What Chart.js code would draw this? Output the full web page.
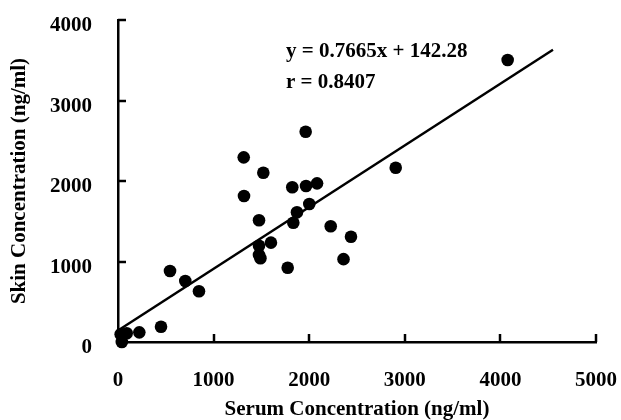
<!DOCTYPE html>
<html>
<head>
<meta charset="utf-8">
<script src="https://cdn.jsdelivr.net/npm/chart.js@4/dist/chart.umd.min.js"></script>
<style>
  html, body { margin: 0; padding: 0; background: #fff; }
  #wrap { width: 621px; height: 420px; }
</style>
</head>
<body>
<div id="wrap"><canvas id="c" width="621" height="420"></canvas></div>
<script>
// ---- Data ----
const serumValues = [40, 28, 91, 223, 450, 544, 704, 847, 1318, 1315, 1520, 1475, 1475, 1600, 1475, 1490, 1775, 1823, 1967, 2082, 1963, 2001, 1872, 1834, 2225, 2437, 2359, 2905, 4076];
const skinValues  = [0, 96, 108, 120, 190, 882, 758, 630, 1814, 2294, 2103, 1512, 1196, 1234, 1080, 1040, 923, 1922, 1938, 1971, 2612, 1714, 1611, 1482, 1437, 1308, 1029, 2165, 3503];
const regSlope = 0.7665;
const regIntercept = 142.28;
const regLineX = [0, 4550];
const xTicks = [0, 1000, 2000, 3000, 4000, 5000];
const yTicks = [0, 1000, 2000, 3000, 4000];
const equationLines = ['y = 0.7665x + 142.28', 'r = 0.8407'];
const equationPos = { x: 1757, y: [3540, 3155] };
const xTitle = 'Serum Concentration (ng/ml)';
const yTitle = 'Skin Concentration (ng/ml)';

const FONT = '"Liberation Serif", "Times New Roman", serif';

const scatterData = serumValues.map((v, i) => ({ x: v, y: skinValues[i] }));
const lineData = regLineX.map(x => ({ x: x, y: regSlope * x + regIntercept }));

function zeroPad(s) { s.paddingTop = 0; s.paddingBottom = 0; s.paddingLeft = 0; s.paddingRight = 0; }

const insideTicks = {
  id: 'insideTicks',
  afterDraw(chart) {
    const ctx = chart.ctx;
    const xs = chart.scales.x, ys = chart.scales.y;
    ctx.save();
    ctx.strokeStyle = '#000';
    ctx.lineWidth = 2.5;
    const xb = ys.getPixelForValue(0);
    xTicks.forEach(v => {
      const px = Math.round(xs.getPixelForValue(v));
      ctx.beginPath(); ctx.moveTo(px, xb); ctx.lineTo(px, xb - 8); ctx.stroke();
    });
    const yl = xs.getPixelForValue(0);
    yTicks.forEach(v => {
      const py = Math.round(ys.getPixelForValue(v));
      ctx.beginPath(); ctx.moveTo(yl, py); ctx.lineTo(yl + 8, py); ctx.stroke();
    });
    // equation text
    ctx.fillStyle = '#000';
    ctx.font = 'bold 21px ' + FONT;
    ctx.textAlign = 'left';
    ctx.textBaseline = 'alphabetic';
    equationLines.forEach((t, i) => {
      ctx.fillText(t, xs.getPixelForValue(equationPos.x), ys.getPixelForValue(equationPos.y[i]));
    });
    ctx.restore();
  }
};

new Chart(document.getElementById('c'), {
  type: 'scatter',
  data: {
    datasets: [
      {
        type: 'line',
        data: lineData,
        borderColor: '#000',
        borderWidth: 2.5,
        pointRadius: 0,
        fill: false,
        order: 2
      },
      {
        data: scatterData,
        backgroundColor: '#000',
        borderColor: '#000',
        borderWidth: 0,
        pointRadius: 6.3,
        order: 1
      }
    ]
  },
  options: {
    responsive: false,
    animation: false,
    clip: false,
    layout: { padding: { top: 20, right: 25, bottom: 0, left: 0 } },
    plugins: { legend: { display: false }, tooltip: { enabled: false } },
    scales: {
      x: {
        type: 'linear',
        min: 0, max: 5000,
        afterBuildTicks: s => { s.ticks = xTicks.map(v => ({ value: v })); },
        afterFit: s => { s.height = 78; zeroPad(s); },
        ticks: {
          color: '#000',
          font: { family: FONT, size: 21, weight: 'bold' },
          padding: 26,
          maxRotation: 0,
          callback: v => String(v)
        },
        grid: { display: true, drawOnChartArea: false, drawTicks: false },
        border: { display: true, color: '#000', width: 2.5 },
        title: {
          display: true, text: xTitle, color: '#000',
          font: { family: FONT, size: 21, weight: 'bold', lineHeight: 1 },
          padding: { top: 0, bottom: 0 }
        }
      },
      y: {
        type: 'linear',
        min: 0, max: 4000,
        afterBuildTicks: s => { s.ticks = yTicks.map(v => ({ value: v })); },
        afterFit: s => { s.width = 118; zeroPad(s); },
        ticks: {
          color: '#000',
          font: { family: FONT, size: 21, weight: 'bold' },
          padding: 26,
          labelOffset: 6,
          callback: v => String(v)
        },
        grid: { display: true, drawOnChartArea: false, drawTicks: false },
        border: { display: true, color: '#000', width: 2.5 },
        title: {
          display: true, text: yTitle, color: '#000',
          font: { family: FONT, size: 21, weight: 'bold', lineHeight: 1 },
          padding: { top: 9, bottom: 0 }
        }
      }
    }
  },
  plugins: [insideTicks]
});
</script>
</body>
</html>
